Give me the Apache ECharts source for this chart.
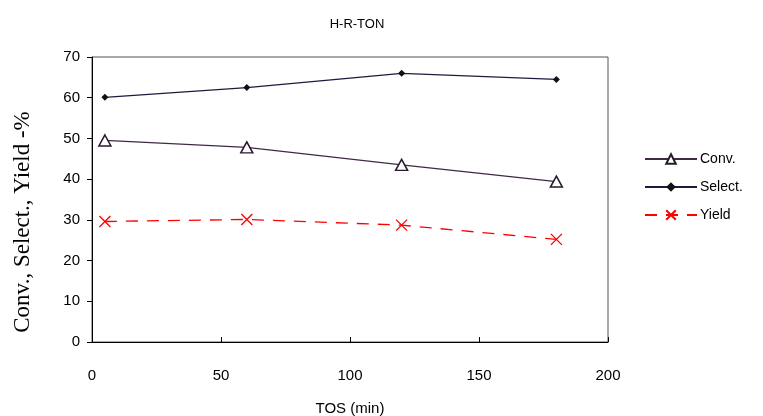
<!DOCTYPE html>
<html><head><meta charset="utf-8">
<script src="https://cdn.jsdelivr.net/npm/echarts@6/dist/echarts.min.js"></script>
<style>html,body{margin:0;padding:0;background:#fff}#c{width:763px;height:416px}</style>
</head><body><div id="c"></div>
<script>
const tos = [5, 60, 120, 180];
const conv = [49.5, 47.8, 43.5, 39.4];
const select = [60.1, 62.5, 66, 64.5];
const yieldVals = [29.6, 30.1, 28.7, 25.2];
const xTicks = [0, 50, 100, 150, 200];
const yTicks = [0, 10, 20, 30, 40, 50, 60, 70];

const pair = (xs, ys) => xs.map((x, i) => [x, ys[i]]);
const chart = echarts.init(document.getElementById('c'));
const font = 'Liberation Sans, Arial, sans-serif';
chart.setOption({
  animation: false,
  backgroundColor: '#fff',
  title: { text: 'H-R-TON', left: 352, top: 13, textAlign: 'center',
    textStyle: { fontFamily: font, fontSize: 13, fontWeight: 'normal', color: '#000' } },
  graphic: [{
    type: 'text', x: 23, y: 222, rotation: Math.PI / 2,
    style: { text: 'Conv., Select., Yield -%', fontFamily: 'Liberation Serif, Times New Roman, serif',
      fontSize: 23, fill: '#000', align: 'center', verticalAlign: 'middle' }
  }],
  grid: { left: 92, right: 155, top: 57, bottom: 74, show: true, borderColor: '#555', borderWidth: 1,
    containLabel: false, outerBoundsMode: 'none' },
  legend: {
    orient: 'vertical', left: 639, top: 147, itemGap: 14, itemWidth: 52, itemHeight: 12,
    textStyle: { fontFamily: font, fontSize: 14, color: '#000', padding: [0,0,0,-2] },
    data: ['Conv.', 'Select.', 'Yield']
  },
  xAxis: {
    type: 'value', min: 0, max: 200, interval: 50,
    name: 'TOS (min)', nameLocation: 'middle', nameGap: 59,
    nameTextStyle: { fontFamily: font, fontSize: 15, color: '#000' },
    axisLine: { lineStyle: { color: '#000' } },
    axisTick: { show: true, length: 5, inside: true, lineStyle: { color: '#000' } },
    axisLabel: { fontFamily: font, fontSize: 15, color: '#000', margin: 26 },
    splitLine: { show: false }
  },
  yAxis: {
    type: 'value', min: 0, max: 70, interval: 10,
    axisLine: { show: true, lineStyle: { color: '#000' } },
    axisTick: { show: true, length: 5, lineStyle: { color: '#000' } },
    axisLabel: { fontFamily: font, fontSize: 15, color: '#000', margin: 12 },
    splitLine: { show: false }
  },
  series: [
    { name: 'Conv.', type: 'line', data: pair(tos, conv), symbol: 'triangle', symbolSize: [12, 11],
      lineStyle: { color: '#3f2a44', width: 1.3 },
      itemStyle: { color: '#fff', borderColor: '#2a1a2e', borderWidth: 1.5 } },
    { name: 'Select.', type: 'line', data: pair(tos, select), symbol: 'diamond', symbolSize: 7,
      lineStyle: { color: '#1c1c3c', width: 1.3 },
      itemStyle: { color: '#111', borderColor: '#111', borderWidth: 0 } },
    { name: 'Yield', type: 'line', data: pair(tos, yieldVals),
      symbol: 'path://M0,0L10,10M10,0L0,10', symbolSize: 11,
      lineStyle: { color: '#ff0000', width: 1.3, type: [12, 9] },
      itemStyle: { color: 'transparent', borderColor: '#ff0000', borderWidth: 1.3 } }
  ]
});
</script></body></html>
